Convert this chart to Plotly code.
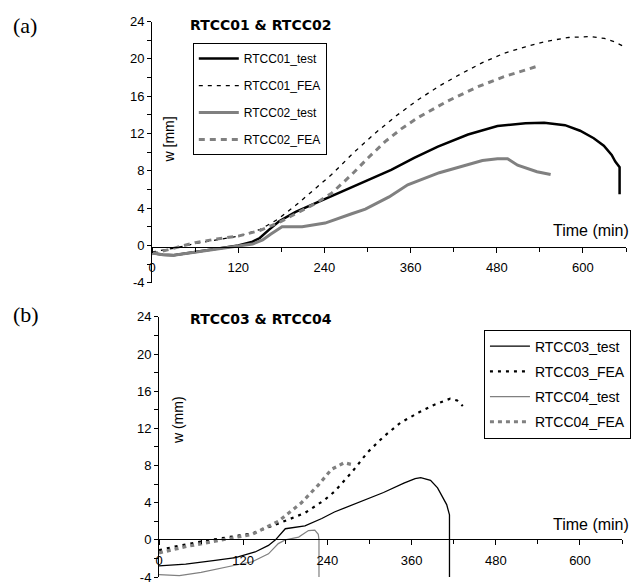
import plotly.graph_objects as go

# ---------------- data (a) ----------------
t01_test = [0, 15, 30, 60, 90, 120, 140, 150, 163, 177, 200, 230, 264, 300, 333, 365, 398, 440, 481, 520, 546, 575, 596, 615, 629, 640, 645, 651, 651]
w01_test = [-0.8, -1.0, -1.05, -0.7, -0.35, 0.0, 0.4, 0.8, 1.7, 2.6, 3.6, 4.6, 5.8, 7.0, 8.1, 9.4, 10.6, 11.9, 12.8, 13.1, 13.15, 12.9, 12.3, 11.5, 10.7, 9.7, 9.0, 8.4, 5.5]

t01_fea = [0, 30, 60, 90, 120, 150, 175, 200, 225, 250, 280, 310, 340, 370, 400, 430, 460, 490, 520, 550, 580, 610, 630, 645, 660]
w01_fea = [-0.7, -0.3, 0.2, 0.6, 1.0, 1.7, 2.8, 4.3, 5.9, 7.6, 9.9, 12.0, 13.9, 15.6, 17.1, 18.4, 19.6, 20.6, 21.3, 21.9, 22.3, 22.4, 22.2, 21.8, 21.2]

t02_test = [0, 15, 30, 60, 90, 120, 140, 154, 165, 181, 209, 241, 278, 297, 330, 356, 400, 435, 460, 481, 495, 509, 536, 555]
w02_test = [-0.8, -1.0, -1.05, -0.7, -0.35, -0.05, 0.15, 0.6, 1.2, 2.0, 2.0, 2.4, 3.4, 3.9, 5.2, 6.5, 7.8, 8.6, 9.1, 9.3, 9.3, 8.6, 7.9, 7.6]

t02_fea = [0, 30, 60, 90, 120, 150, 175, 200, 225, 250, 278, 301, 324, 347, 370, 412, 453, 490, 528, 540]
w02_fea = [-0.9, -0.3, 0.3, 0.7, 1.0, 1.6, 2.4, 3.4, 4.4, 5.6, 7.6, 9.4, 11.1, 12.5, 13.7, 15.5, 17.0, 18.1, 19.0, 19.3]

# ---------------- data (b) ----------------
t03_test = [0, 38, 80, 109, 137, 156, 166, 180, 208, 232, 250, 283, 320, 349, 365, 373, 387, 397, 403, 410, 414, 414]
w03_test = [-2.8, -2.6, -2.2, -1.9, -1.3, -0.6, 0.0, 1.2, 1.5, 2.3, 3.0, 4.0, 5.1, 6.1, 6.6, 6.7, 6.4, 5.6, 4.8, 3.8, 2.7, -5]

t03_fea = [0, 30, 62, 100, 133, 175, 208, 236, 250, 275, 297, 320, 344, 370, 391, 415, 425, 433]
w03_fea = [-1.1, -0.6, -0.15, 0.3, 0.7, 1.9, 2.9, 4.3, 5.2, 7.3, 9.4, 11.1, 12.6, 13.7, 14.5, 15.2, 15.0, 14.4]

t04_test = [0, 29, 60, 86, 110, 133, 156, 170, 180, 199, 213, 222, 227, 228, 228]
w04_test = [-3.75, -3.85, -3.5, -3.05, -2.7, -2.35, -1.5, -0.4, 0.0, 0.3, 1.0, 1.05, 0.6, 0.0, -5]

t04_fea = [0, 40, 86, 133, 170, 203, 227, 246, 264, 275]
w04_fea = [-1.4, -0.7, -0.05, 0.6, 2.0, 4.0, 5.9, 7.6, 8.3, 8.1]

x_ticks = [0, 120, 240, 360, 480, 600]
y_ticks = [-4, 0, 4, 8, 12, 16, 20, 24]

GRAY = "#808080"
FONT = "Arial"

fig = go.Figure()

def add(t, w, name, color, width, dash, xa, ya, legend):
    fig.add_trace(go.Scatter(
        x=t, y=w, name=name, mode="lines",
        line=dict(color=color, width=width, dash=dash),
        xaxis=xa, yaxis=ya, legend=legend, legendgroup=name,
    ))

add(t01_test, w01_test, "RTCC01_test", "black", 2.5, "solid", "x", "y", "legend")
add(t01_fea, w01_fea, "RTCC01_FEA", "black", 1.3, "4px,5px", "x", "y", "legend")
add(t02_test, w02_test, "RTCC02_test", GRAY, 3, "solid", "x", "y", "legend")
add(t02_fea, w02_fea, "RTCC02_FEA", GRAY, 3, "6px,5px", "x", "y", "legend")

add(t03_test, w03_test, "RTCC03_test", "black", 1.3, "solid", "x2", "y2", "legend2")
add(t03_fea, w03_fea, "RTCC03_FEA", "black", 2.2, "3px,5px", "x2", "y2", "legend2")
add(t04_test, w04_test, "RTCC04_test", GRAY, 1.2, "solid", "x2", "y2", "legend2")
add(t04_fea, w04_fea, "RTCC04_FEA", GRAY, 3.2, "4px,4px", "x2", "y2", "legend2")

W, H = 634, 587

def xaxis(domain, pos):
    return dict(
        domain=domain, range=[0, 660], anchor="free", position=pos,
        showline=True, linecolor="black", linewidth=1,
        tickmode="array", tickvals=x_ticks, ticktext=[str(v) for v in x_ticks],
        ticks="outside", ticklen=5, tickcolor="black", tickwidth=1,
        minor=dict(dtick=60, tick0=0, ticks="outside", ticklen=4, tickcolor="black"),
        showgrid=False, zeroline=False,
        tickfont=dict(family=FONT, size=13, color="black"),
        ticklabelstandoff=4,
    )

def yaxis(domain, xa):
    return dict(
        domain=domain, range=[-4, 24], anchor=xa,
        showline=True, linecolor="black", linewidth=1,
        tickmode="array", tickvals=y_ticks, ticktext=[str(v) for v in y_ticks],
        ticks="outside", ticklen=4, tickcolor="black",
        minor=dict(dtick=2, tick0=0, ticks="outside", ticklen=4, tickcolor="black"),
        showgrid=False, zeroline=False,
        tickfont=dict(family=FONT, size=13, color="black"),
    )

top_dom = [1 - 283 / H, 1 - 15 / H]
bot_dom = [1 - 585 / H, 1 - 318 / H]

fig.update_layout(
    width=W, height=H,
    margin=dict(l=0, r=0, t=0, b=0),
    paper_bgcolor="white", plot_bgcolor="white",
    xaxis=xaxis([149 / W, 626 / W], 1 - 246 / H),
    yaxis=yaxis(top_dom, "x"),
    xaxis2=xaxis([156 / W, 622 / W], 1 - 546 / H),
    yaxis2=yaxis(bot_dom, "x2"),
    legend=dict(x=190 / W, y=1 - 37 / H, xanchor="left", yanchor="top",
                bordercolor="black", borderwidth=1, bgcolor="white",
                font=dict(family=FONT, size=12, color="black"),
                tracegroupgap=8, itemwidth=40),
    legend2=dict(x=483 / W, y=1 - 331 / H, xanchor="left", yanchor="top",
                 bordercolor="black", borderwidth=1, bgcolor="white",
                 font=dict(family=FONT, size=14, color="black"),
                 tracegroupgap=4, itemwidth=40),
    showlegend=True,
)

ann = [
    dict(text="(a)", x=7 / W, y=1 - 19 / H, xanchor="left", yanchor="middle",
         font=dict(family="Liberation Serif, Times New Roman, serif", size=22, color="black")),
    dict(text="(b)", x=7 / W, y=1 - 316 / H, xanchor="left", yanchor="middle",
         font=dict(family="Liberation Serif, Times New Roman, serif", size=22, color="black")),
    dict(text="<b>RTCC01 & RTCC02</b>", x=185 / W, y=1 - 18 / H, xanchor="left", yanchor="middle",
         font=dict(family="DejaVu Sans", size=14, color="black")),
    dict(text="<b>RTCC03 & RTCC04</b>", x=185 / W, y=1 - 320 / H, xanchor="left", yanchor="middle",
         font=dict(family="DejaVu Sans", size=14, color="black")),
    dict(text="Time (min)", x=631 / W, y=1 - 229 / H, xanchor="right", yanchor="middle",
         font=dict(family=FONT, size=16, color="black")),
    dict(text="Time (min)", x=631 / W, y=1 - 531 / H, xanchor="right", yanchor="middle",
         font=dict(family=FONT, size=16, color="black")),
    dict(text="w [mm]", x=166 / W, y=1 - 136 / H, xanchor="center", yanchor="middle", textangle=-90,
         font=dict(family=FONT, size=14, color="black")),
    dict(text="w (mm)", x=175 / W, y=1 - 424 / H, xanchor="center", yanchor="middle", textangle=-90,
         font=dict(family=FONT, size=14, color="black")),
]
for a in ann:
    a.update(xref="paper", yref="paper", showarrow=False)
fig.update_layout(annotations=ann)

fig.write_html("out.html")
